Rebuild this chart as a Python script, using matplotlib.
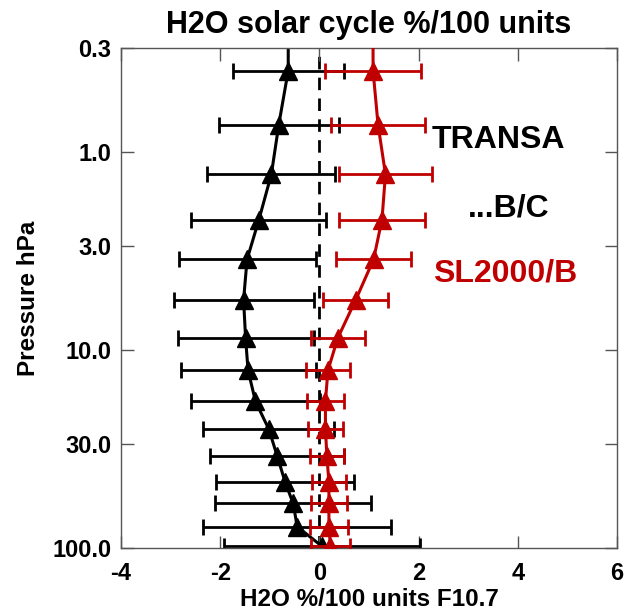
import matplotlib
matplotlib.use('Agg')
import matplotlib.pyplot as plt
import numpy as np

plt.rcParams['font.family'] = ['Liberation Sans', 'DejaVu Sans']
plt.rcParams['font.weight'] = 'bold'
plt.rcParams['axes.unicode_minus'] = False

# pressure levels (hPa), top one sits above the plot and is clipped
pres = [0.21, 0.39, 0.73, 1.3, 2.2, 3.5, 5.6, 8.7, 12.7, 18.2, 25.2, 34.5, 46.7, 59.6, 78.0, 98.0]

# TRANSA (black)
transa = [-0.63, -0.63, -0.82, -0.97, -1.22, -1.46, -1.53, -1.49, -1.44, -1.29, -1.02, -0.85, -0.69, -0.53, -0.45, 0.05]
transa_err = [1.12, 1.12, 1.21, 1.29, 1.36, 1.38, 1.41, 1.37, 1.36, 1.30, 1.32, 1.35, 1.39, 1.57, 1.90, 1.97]

# SL2000/B (red)
sl2000 = [1.08, 1.08, 1.18, 1.33, 1.26, 1.09, 0.73, 0.37, 0.17, 0.12, 0.12, 0.15, 0.19, 0.19, 0.19, 0.22]
sl2000_err = [0.96, 0.96, 0.94, 0.94, 0.86, 0.75, 0.65, 0.54, 0.45, 0.37, 0.35, 0.35, 0.35, 0.37, 0.38, 0.39]

ytick_vals = [0.3, 1.0, 3.0, 10.0, 30.0, 100.0]
ytick_labels = ['0.3', '1.0', '3.0', '10.0', '30.0', '100.0']
xtick_vals = [-4, -2, 0, 2, 4, 6]

red = '#c00000'

fig = plt.figure(figsize=(6.24, 6.10), dpi=100)
ax = fig.add_axes([0.194, 0.1016, 0.795, 0.8197])

ax.axvline(0, color='black', lw=2, dashes=(4.5, 3), zorder=1)

ax.errorbar(transa, pres, xerr=transa_err, color='black', lw=2.2, elinewidth=2,
            capsize=6, capthick=2, marker='^', markersize=12.5, zorder=2)
ax.errorbar(sl2000, pres, xerr=sl2000_err, color=red, lw=2.2, elinewidth=2,
            capsize=6, capthick=2, marker='^', markersize=12.5, zorder=3)

ax.set_yscale('log')
ax.set_ylim(100, 0.3)
ax.set_xlim(-4, 6)
ax.set_yticks(ytick_vals)
ax.set_yticklabels(ytick_labels)
ax.yaxis.set_minor_locator(matplotlib.ticker.NullLocator())
ax.set_xticks(xtick_vals)

ax.tick_params(direction='in', length=9, width=1, top=True, right=True,
               labelsize=17, color='#555555')
ax.tick_params(axis='y', pad=7)
ax.tick_params(axis='x', pad=10)
for s in ax.spines.values():
    s.set_color('#555555')
    s.set_linewidth(1)

ax.set_title('H2O solar cycle %/100 units', fontsize=22, fontweight='bold', pad=11)
ax.set_xlabel('H2O %/100 units F10.7', fontsize=17.5, fontweight='bold', labelpad=2)
ax.set_ylabel('Pressure hPa', fontsize=17.5, fontweight='bold', labelpad=9)

ax.text(0.627, 0.816, 'TRANSA', transform=ax.transAxes, fontsize=23,
        fontweight='bold', color='black', va='center', ha='left')
ax.text(0.700, 0.68, '...B/C', transform=ax.transAxes, fontsize=23,
        fontweight='bold', color='black', va='center', ha='left')
ax.text(0.629, 0.55, 'SL2000/B', transform=ax.transAxes, fontsize=23,
        fontweight='bold', color=red, va='center', ha='left')

fig.savefig('out.png', dpi=100)
